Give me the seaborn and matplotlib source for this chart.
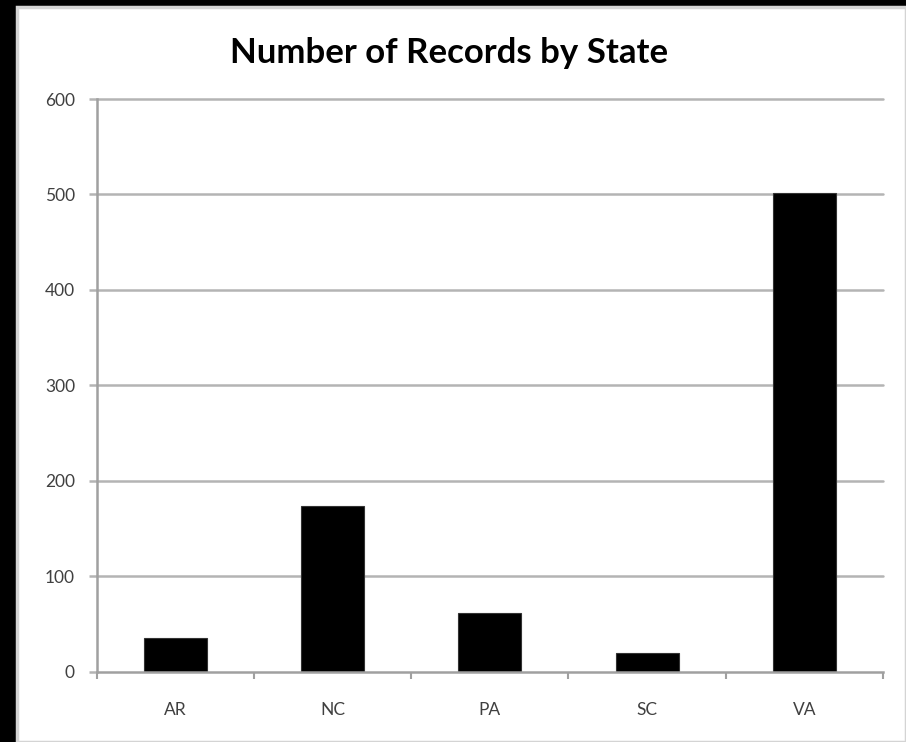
import matplotlib
matplotlib.use("Agg")
import matplotlib.pyplot as plt
import seaborn as sns
import pandas as pd
import numpy as np
from matplotlib.patches import Rectangle

states = ["AR", "NC", "PA", "SC", "VA"]
records = [35, 174, 62, 20, 502]
y_ticks = [0, 100, 200, 300, 400, 500, 600]
title = "Number of Records by State"

df = pd.DataFrame({"State": states, "Records": records})

sns.set_theme(style="white")
plt.rcParams["font.family"] = ["Lato", "DejaVu Sans"]

W, H = 906, 742
fig = plt.figure(figsize=(W / 100, H / 100), dpi=100)
fig.patch.set_facecolor("black")
# white chart area with light grey edge
bg = Rectangle((17 / W, 0 / H), (W - 17) / W, (H - 7) / H,
               transform=fig.transFigure, facecolor="white",
               edgecolor="#d4d4d4", linewidth=2.5, zorder=-5)
fig.patches.append(bg)

ax = fig.add_axes([96.5 / W, 70.3 / H, (883 - 96.5) / W, (671.7 - 99) / H])
ax.set_zorder(2)
ax.set_facecolor("white")

sns.barplot(data=df, x="State", y="Records", color="black", width=0.4,
            saturation=1, ax=ax, zorder=3)
for p in ax.patches:
    p.set_edgecolor("#333333")
    p.set_linewidth(0.8)

ax.set_xlim(-0.5, len(states) - 0.5)
ax.set_ylim(0, 600)
ax.set_yticks(y_ticks)
ax.set_yticklabels([str(v) for v in y_ticks])
ax.set_xlabel("")
ax.set_ylabel("")

grid_c = "#b4b4b4"
for v in y_ticks[1:]:
    ax.axhline(v, color=grid_c, linewidth=1.8, zorder=1, clip_on=False)

for s in ["top", "right"]:
    ax.spines[s].set_visible(False)
ax.spines["left"].set_color("#a0a0a0")
ax.spines["left"].set_linewidth(1.8)
ax.spines["bottom"].set_color("#a0a0a0")
ax.spines["bottom"].set_linewidth(1.8)
ax.spines["left"].set_zorder(4)
ax.spines["bottom"].set_zorder(4)

lab_c = "#404040"
ax.tick_params(axis="y", which="major", length=5.5, width=1.8, color=grid_c,
               pad=10, labelsize=12.5, labelcolor=lab_c, left=True)
# x: major ticks at centres with no marks, minor marks at boundaries
ax.tick_params(axis="x", which="major", length=0, pad=22, labelsize=12.5,
               labelcolor=lab_c, bottom=True)
ax.set_xticks(np.arange(-0.5, len(states), 1.0), minor=True)
ax.tick_params(axis="x", which="minor", length=5, width=1.5, color="#a0a0a0",
               bottom=True, direction="out")

fig.text(449 / W, (H - 63) / H, title, ha="center", va="baseline",
         fontsize=25, fontweight="bold", color="black")

fig.savefig("out.png", dpi=100, facecolor=fig.get_facecolor())
